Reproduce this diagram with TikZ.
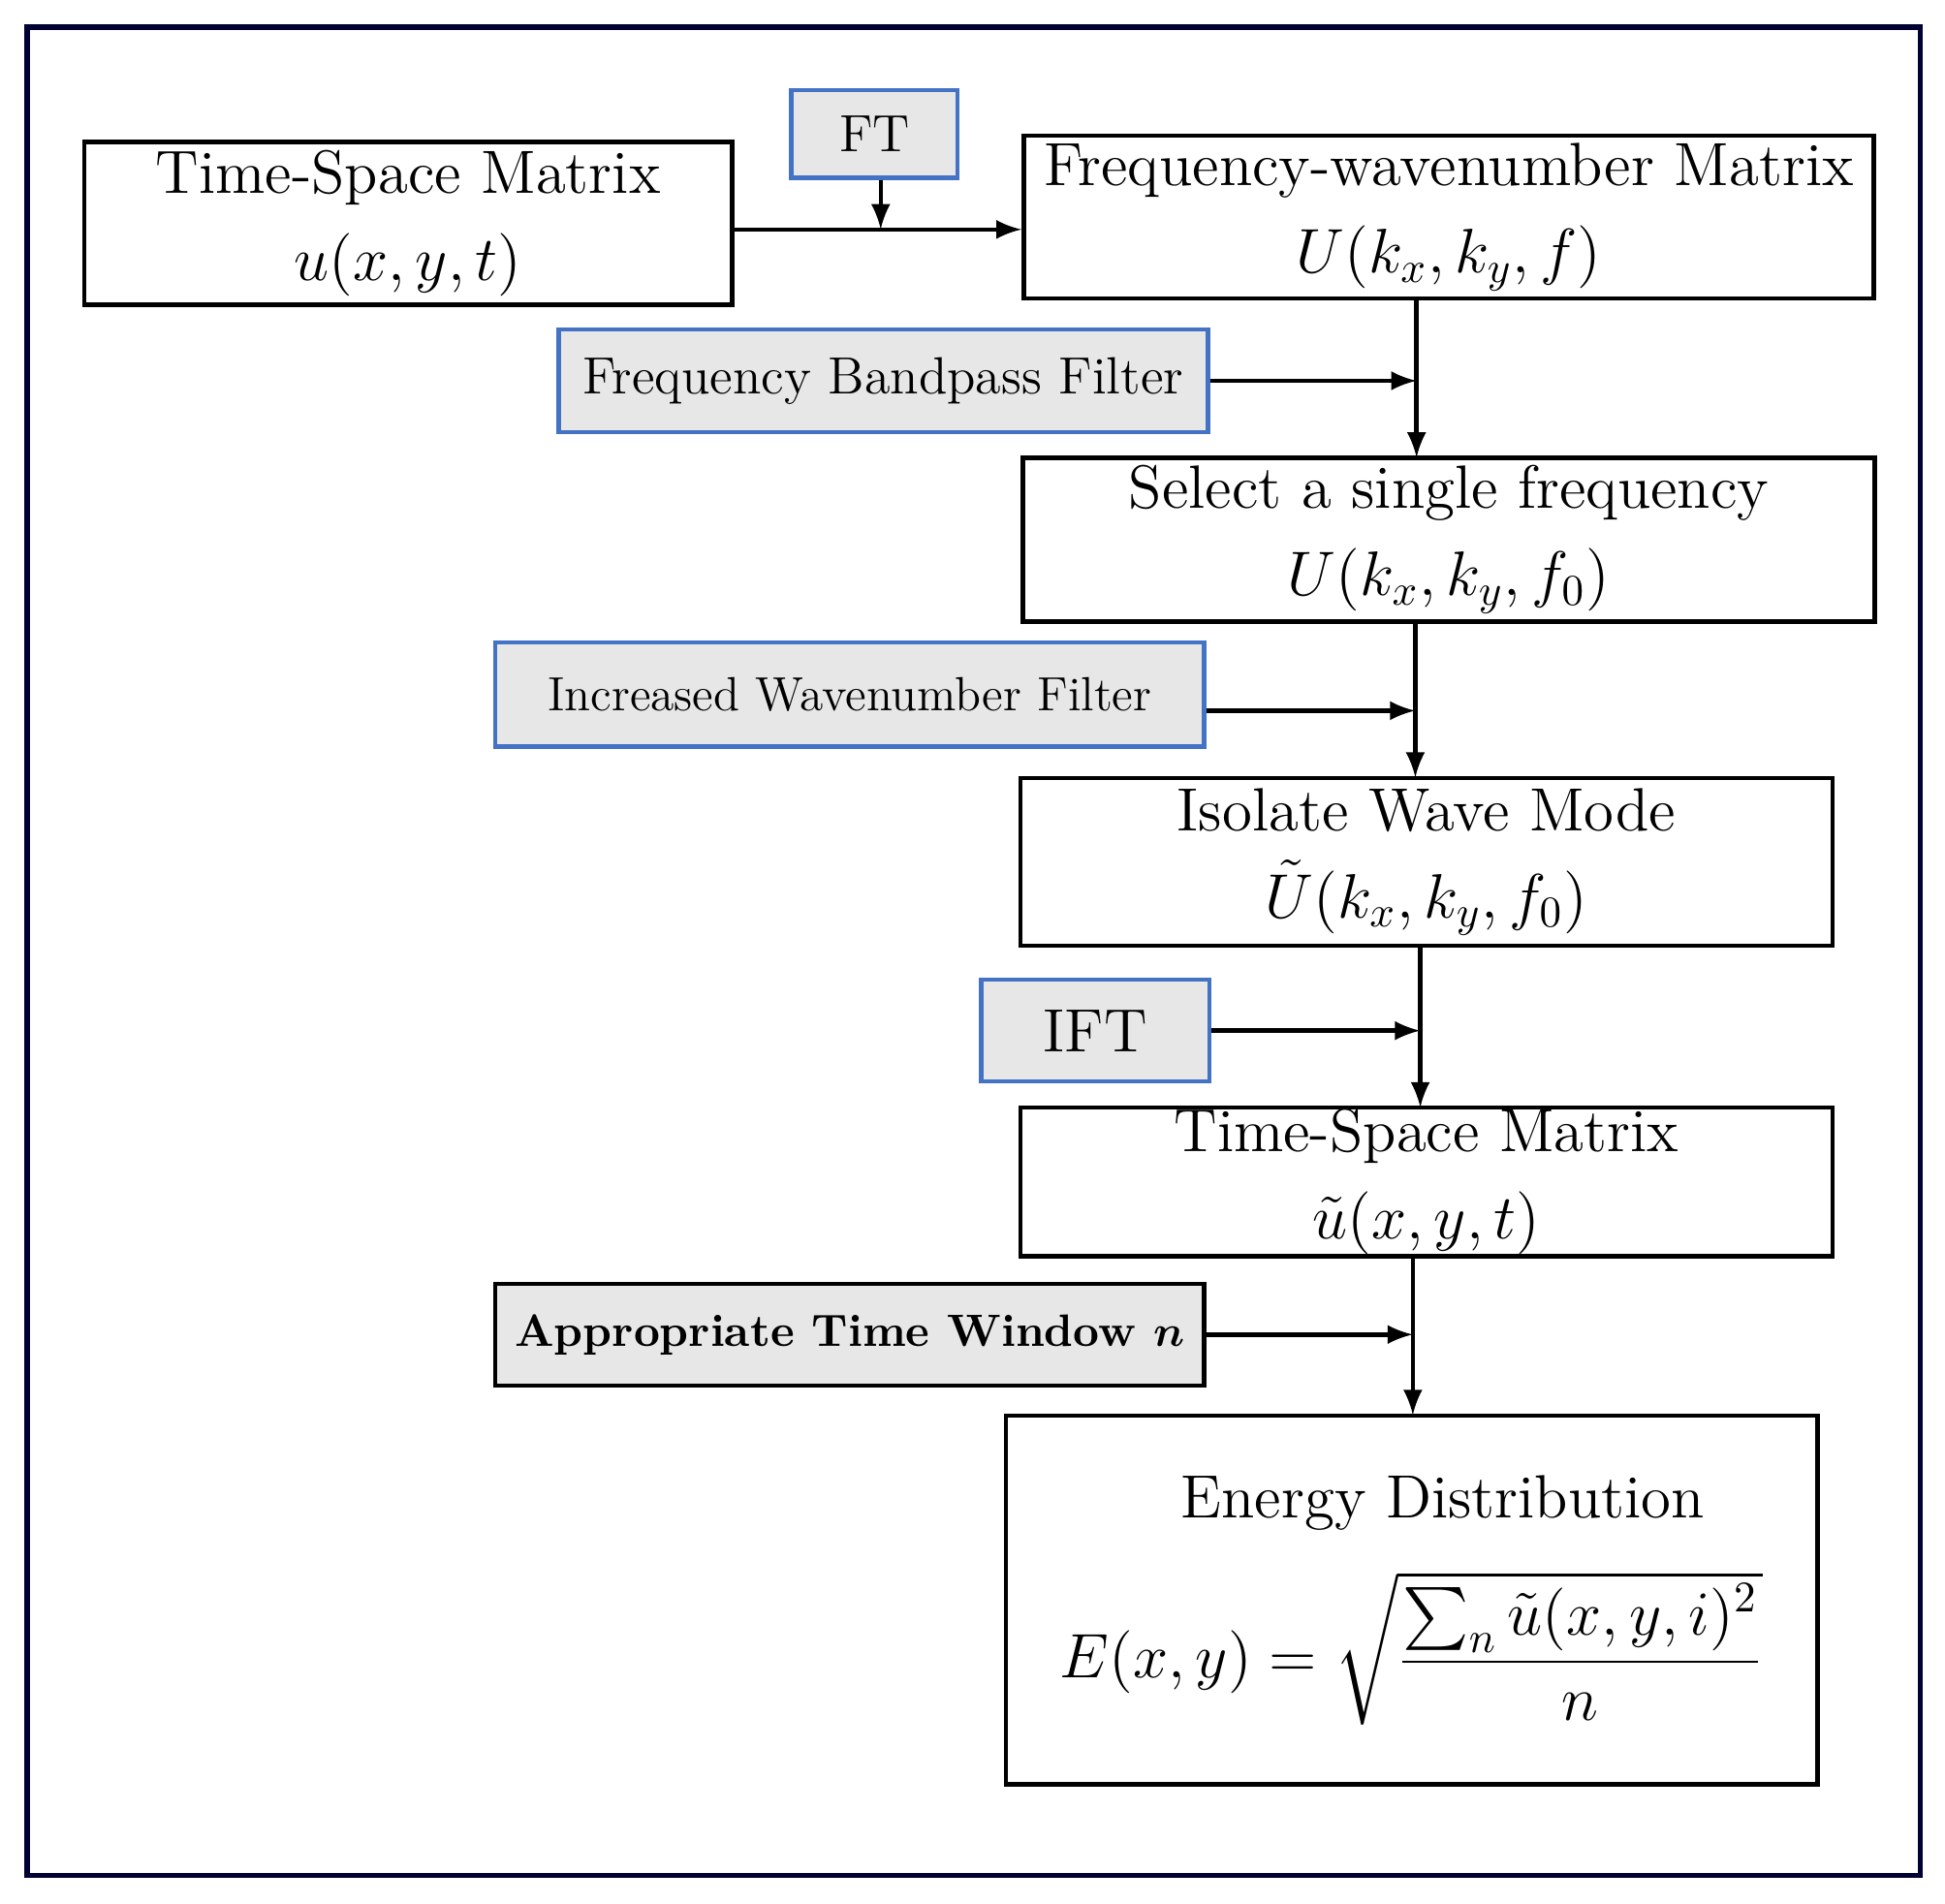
\documentclass[tikz,border=0pt]{standalone}
\usepackage{amsmath}
\usetikzlibrary{positioning}
\definecolor{filtblue}{RGB}{68,114,196}
\definecolor{filtgray}{RGB}{231,231,231}
\tikzset{
  matbox/.style={draw, line width=1pt, align=center, inner sep=0pt,
    font=\fontsize{14}{20}\selectfont},
  filtbox/.style={draw=filtblue, fill=filtgray, line width=1pt, align=center,
    inner sep=0pt, font=\fontsize{12}{15}\selectfont},
  flow/.style={line width=1pt, -latex}
}
\begin{document}
\begin{tikzpicture}[x=0.01cm, y=-0.01cm]
  \useasboundingbox (0,0) rectangle (1568,1535);
  \draw[line width=1.2pt, draw=black!80!blue] (22,22) rectangle (1548,1512);
  % matrices
  \node[matbox, minimum width=5.22cm, minimum height=1.31cm] (tsm) at (329,180)
    {Time-Space Matrix\\ $u(x,y,t)$};
  \node[matbox, minimum width=6.85cm, minimum height=1.31cm] (fwm) at (1168,175)
    {Frequency-wavenumber Matrix\\ $U(k_x,k_y,f)$};
  \node[matbox, minimum width=6.86cm, minimum height=1.32cm] (sel) at (1168,435)
    {Select a single frequency\\ $U(k_x,k_y,f_0)$};
  \node[matbox, minimum width=6.54cm, minimum height=1.35cm] (iso) at (1150,695)
    {Isolate Wave Mode\\ $\tilde U(k_x,k_y,f_0)$};
  \node[matbox, minimum width=6.54cm, minimum height=1.20cm] (tsm2) at (1150,953)
    {Time-Space Matrix\\ $\tilde u(x,y,t)$};
  \node[matbox, minimum width=6.54cm, minimum height=2.97cm] (ene) at (1138,1290)
    {\hspace*{0.5cm}Energy Distribution\\[0.3cm]
     $E(x,y)=\sqrt{\dfrac{\sum_n \tilde u(x,y,i)^2}{n}}$};
  % filters
  \node[filtbox, minimum width=1.34cm, minimum height=0.71cm] (ft) at (705,108) {FT};
  \node[filtbox, minimum width=5.23cm, minimum height=0.83cm] (fbf) at (712,307)
    {Frequency Bandpass Filter};
  \node[filtbox, font=\fontsize{11}{14}\selectfont, minimum width=5.71cm,
    minimum height=0.84cm] (iwf) at (685,560) {Increased Wavenumber Filter};
  \node[filtbox, font=\fontsize{14}{17}\selectfont, minimum width=1.84cm,
    minimum height=0.82cm] (ift) at (883,831) {IFT};
  \node[filtbox, draw=black, font=\fontsize{10.4}{13}\selectfont, minimum width=5.71cm,
    minimum height=0.82cm] (atw) at (685,1076)
    {\bfseries Appropriate Time Window $\boldsymbol{n}$};
  % connectors
  \coordinate (j1) at (710,185);
  \draw[flow] (tsm.east |- j1) -- (fwm.west |- j1);
  \draw[flow] (ft.south -| j1) -- (j1);
  \draw[flow] (1142,241) -- (1142,369);
  \draw[flow] (fbf.east) -- (1142,307);
  \draw[flow] (1141,501) -- (1141,627);
  \draw[flow] (iwf.east |- 0,573) -- (1141,573);
  \draw[flow] (1145,762) -- (1145,893);
  \draw[flow] (ift.east) -- (1145,831);
  \draw[flow] (1139,1013) -- (1139,1141);
  \draw[flow] (atw.east) -- (1139,1076);
\end{tikzpicture}
\end{document}
